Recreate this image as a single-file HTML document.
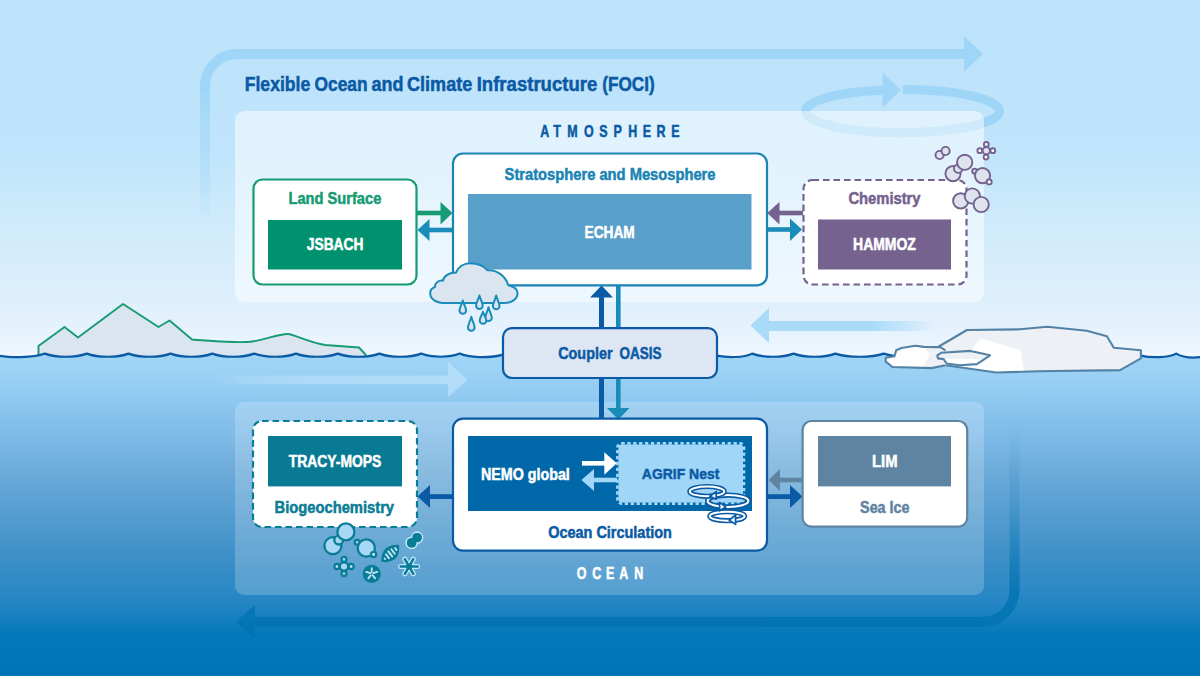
<!DOCTYPE html>
<html lang="en">
<head>
<meta charset="utf-8">
<title>Flexible Ocean and Climate Infrastructure (FOCI)</title>
<style>
html,body{margin:0;padding:0;background:#0075b7;}
body{width:1200px;height:676px;overflow:hidden;}
svg{display:block;}
text{font-family:"Liberation Sans",sans-serif;font-weight:bold;}
</style>
</head>
<body>
<svg width="1200" height="676" viewBox="0 0 1200 676">
<defs>
<linearGradient id="sky" x1="0" y1="0" x2="0" y2="356" gradientUnits="userSpaceOnUse">
<stop offset="0" stop-color="#bce3fa"/>
<stop offset="0.42" stop-color="#bfe4fb"/>
<stop offset="0.6" stop-color="#cdeafb"/>
<stop offset="0.84" stop-color="#deeffc"/>
<stop offset="0.94" stop-color="#e7f3fd"/>
<stop offset="1" stop-color="#f1f8fe"/>
</linearGradient>
<linearGradient id="sea" x1="0" y1="352" x2="0" y2="676" gradientUnits="userSpaceOnUse">
<stop offset="0" stop-color="#a0d7f8"/>
<stop offset="0.086" stop-color="#98cff4"/>
<stop offset="0.27" stop-color="#7cb9e6"/>
<stop offset="0.355" stop-color="#6eacda"/>
<stop offset="0.627" stop-color="#3f90c8"/>
<stop offset="0.78" stop-color="#2385c3"/>
<stop offset="0.87" stop-color="#0579b9"/>
<stop offset="1" stop-color="#0075b6"/>
</linearGradient>
<linearGradient id="topfade" x1="0" y1="88" x2="0" y2="220" gradientUnits="userSpaceOnUse">
<stop offset="0" stop-color="#9fd6f7" stop-opacity="1"/>
<stop offset="0.25" stop-color="#9fd6f7" stop-opacity="0.68"/>
<stop offset="0.6" stop-color="#9fd6f7" stop-opacity="0.4"/>
<stop offset="0.9" stop-color="#9fd6f7" stop-opacity="0.16"/>
<stop offset="1" stop-color="#9fd6f7" stop-opacity="0"/>
</linearGradient>
<linearGradient id="botfade" x1="0" y1="425" x2="0" y2="592" gradientUnits="userSpaceOnUse">
<stop offset="0" stop-color="#0072b1" stop-opacity="0"/>
<stop offset="0.5" stop-color="#0072b1" stop-opacity="0.24"/>
<stop offset="1" stop-color="#0072b1" stop-opacity="1"/>
</linearGradient>
<linearGradient id="airfade" x1="769" y1="0" x2="938" y2="0" gradientUnits="userSpaceOnUse">
<stop offset="0" stop-color="#a9daf8" stop-opacity="1"/>
<stop offset="0.6" stop-color="#a9daf8" stop-opacity="1"/>
<stop offset="1" stop-color="#a9daf8" stop-opacity="0"/>
</linearGradient>
<linearGradient id="seafade" x1="214" y1="0" x2="448" y2="0" gradientUnits="userSpaceOnUse">
<stop offset="0" stop-color="#c4e6fb" stop-opacity="0"/>
<stop offset="0.15" stop-color="#c4e6fb" stop-opacity="0.3"/>
<stop offset="0.45" stop-color="#c4e6fb" stop-opacity="0.5"/>
<stop offset="1" stop-color="#c4e6fb" stop-opacity="0.6"/>
</linearGradient>
</defs>

<!-- sky -->
<rect x="0" y="0" width="1200" height="360" fill="url(#sky)"/>

<!-- big top circulation arrow -->
<g id="toparrow">
<rect x="200" y="88" width="10" height="132" fill="url(#topfade)"/>
<path d="M205 90 V86 A32 32 0 0 1 237 54 H966" fill="none" stroke="#9fd6f7" stroke-width="10"/>
<polygon points="964,36 983,54 964,72" fill="#9fd6f7"/>
</g>

<!-- ellipse swirl -->
<g id="swirl" fill="none" stroke="#9fd6f7" stroke-width="9">
<path d="M903 89.5 A97 21.6 0 1 1 884 89.9"/>
<polygon points="882.5,72.5 901,90 882.5,107.5" fill="#9fd6f7" stroke="none"/>
</g>

<!-- land -->
<path id="land" d="M38.5 358 V346 L64.5 327 L78 337.5 L123 304 L158.5 327 L169.5 320.5 L192 339.5 C215 341 240 343.5 252 341.5 C265 339.5 280 333.6 288 334 C294 334.4 310 343 325 345 L359 347.5 L365.5 354.5 V358 Z" fill="#dbe5f0" stroke="#169b72" stroke-width="1.9" stroke-linejoin="round"/>

<!-- sea -->
<path id="water" d="M0 676 V355.4 L-2 355.4 C8 357.6 34 358.2 44.9 353.6 C55.9 357.8 75.9 357.8 86.7 353.6 C97.7 357.8 117.7 357.8 128.5 353.6 C139.3 357.8 159.5 357.8 170.5 353.6 C181.5 357.8 201.5 357.8 212.3 353.6 C223.2 357.8 243.2 357.8 254 353.6 C265.1 357.8 285.1 357.8 295.9 353.6 C307.0 357.8 327.0 357.8 337.8 353.6 C348.6 357.8 368.6 357.8 379.4 353.6 C390.4 357.8 410.4 357.8 421.2 353.6 C431.4 357.8 449.8 357.8 459.8 353.6 C468 357.8 490 358.4 503 354.6 L717 355.6 C726 357.6 744 358 752 353.6 C762.8 357.8 782.8 357.8 793.6 353.6 C804.6 357.8 824.6 357.8 835.4 353.6 C848.0 357.8 871.2 357.8 883.8 353.6 Q888 355.2 895 356 L1141 355.6 C1150 358 1169 358 1176.2 353.6 C1183 357.8 1194 358 1202 357 V676 Z" fill="url(#sea)"/>
<g fill="none" stroke="#0a5aa5" stroke-width="2.2" stroke-linejoin="miter" stroke-miterlimit="10">
<path d="M-2 355.4 C8 357.6 34 358.2 44.9 353.6 C55.9 357.8 75.9 357.8 86.7 353.6 C97.7 357.8 117.7 357.8 128.5 353.6 C139.3 357.8 159.5 357.8 170.5 353.6 C181.5 357.8 201.5 357.8 212.3 353.6 C223.2 357.8 243.2 357.8 254 353.6 C265.1 357.8 285.1 357.8 295.9 353.6 C307.0 357.8 327.0 357.8 337.8 353.6 C348.6 357.8 368.6 357.8 379.4 353.6 C390.4 357.8 410.4 357.8 421.2 353.6 C431.4 357.8 449.8 357.8 459.8 353.6 C468 357.8 490 358.4 503 354.6"/>
<path d="M717 355.6 C726 357.6 744 358 752 353.6 C762.8 357.8 782.8 357.8 793.6 353.6 C804.6 357.8 824.6 357.8 835.4 353.6 C848.0 357.8 871.2 357.8 883.8 353.6 Q888 355.2 895 356"/>
<path d="M1141 355.6 C1150 358 1169 358 1176.2 353.6 C1183 357.8 1194 358 1202 357"/>
</g>


<!-- iceberg -->
<g id="iceberg" stroke-linejoin="round">
<path d="M938 347 L967 330 L1020 329.3 L1047.2 326.7 L1086.8 330.8 L1106.9 336.2 L1113.8 347.7 L1140.9 350.3 L1140.9 358.4 L1120.1 370.1 L1037.7 371.3 L996.4 372.5 L945.5 365.3 Z" fill="#edf0f5" stroke="none"/>
<path d="M980.7 338.3 L1020.8 350.3 L1023.9 371.6 L996.4 372.5 L945.5 365.3 L958.8 365 Z" fill="#ffffff" stroke="none"/>
<path d="M938 347 L967 330 L1020 329.3 L1047.2 326.7 L1086.8 330.8 L1106.9 336.2 L1113.8 347.7 L1140.9 350.3 L1140.9 358.4 L1120.1 370.1 L1037.7 371.3 L996.4 372.5 L945.5 365.3" fill="none" stroke="#5482a5" stroke-width="2.1"/>
<path d="M885.7 357.8 L894.5 356.3 L896.2 350.3 L901.4 348 L915.3 345.8 L924.1 346.9 L940.4 347.1 L945.5 350.5 L947 360 L945.5 365.3 L931.6 368.1 L892.6 367 L885.7 361.6 Z" fill="#ffffff" stroke="none"/>
<path d="M925 349 L930 354.6 L922 367.8 L931.6 368.1 L945.5 365.3 L947 360 L945.5 350.5 L940.4 347.1 Z" fill="#edf0f5" stroke="none"/>
<path d="M945.5 365.3 L931.6 368.1 L892.6 367 L885.7 361.6 L885.7 357.8 L894.5 356.3 L896.2 350.3 L901.4 348 L915.3 345.8 L924.1 346.9 L940.4 347.1 L945.5 350.5" fill="none" stroke="#5482a5" stroke-width="2.1"/>
<path d="M937.3 355.3 L941.1 352.8 L970.6 350.9 L990.1 355.3 L976.9 364.1 L959.3 365.3 L946.7 363.5 L943.6 359.1 L937.9 358.4 Z" fill="#ffffff" stroke="none"/>
<path d="M937.3 355.3 L941.1 352.8 L970.6 350.9 L990.1 355.3 L984 359.5 L943.6 358.6 L937.9 358.4 Z" fill="#edf0f5" stroke="none"/>
<path d="M937.3 355.3 L941.1 352.8 L970.6 350.9 L990.1 355.3 L976.9 364.1 L959.3 365.3 L946.7 363.5 L943.6 359.1 L937.9 358.4 Z" fill="none" stroke="#5482a5" stroke-width="2.1"/>
</g>

<!-- air / sea flow arrows -->
<g id="flows">
<rect x="768" y="321" width="172" height="10" fill="url(#airfade)"/>
<polygon points="750.5,325.5 769,308 769,343" fill="#a9daf8"/>
<rect x="212" y="375.5" width="236" height="8.5" fill="url(#seafade)"/>
<polygon points="448,362 467.5,379.7 448,397.5" fill="#c4e6fb" fill-opacity="0.6"/>
</g>

<!-- big bottom circulation arrow -->
<g id="botarrow" opacity="0.75">
<rect x="1009.5" y="425" width="10" height="166" fill="url(#botfade)"/>
<path d="M1019.5 591 A37 37 0 0 1 982.5 627 H255 V639 L236 621.8 L255 604.5 V617 H982.5 A27 27 0 0 0 1009.5 591 Z" fill="#0072b1"/>
</g>

<!-- panels -->
<rect id="atmpanel" x="235" y="111" width="749" height="191" rx="9" fill="#ffffff" fill-opacity="0.5"/>
<rect id="ocpanel" x="235" y="402" width="749" height="193" rx="9" fill="#ffffff" fill-opacity="0.2"/>

<!-- connectors -->
<g id="connectors">
<!-- land <-> echam -->
<rect x="417" y="210.7" width="24" height="4.6" fill="#169b72"/>
<polygon points="440.5,202 452.5,213 440.5,224.5" fill="#169b72"/>
<rect x="429" y="227.7" width="24" height="4.6" fill="#1a8cba"/>
<polygon points="429.5,219 417.5,230 429.5,241" fill="#1a8cba"/>
<!-- echam <-> chemistry -->
<rect x="779" y="210.7" width="24" height="4.6" fill="#74628f"/>
<polygon points="779.5,202 767.2,213 779.5,224.5" fill="#74628f"/>
<rect x="767" y="227.2" width="24" height="4.6" fill="#1a8cba"/>
<polygon points="790,218.5 802,229.5 790,241" fill="#1a8cba"/>
<!-- echam <-> coupler -->
<rect x="599" y="296" width="5" height="33" fill="#0a5aa5"/>
<polygon points="590,297.5 601.5,285.5 613,297.5" fill="#0a5aa5"/>
<rect x="616" y="284" width="4.6" height="45" fill="#1a8cba"/>
<!-- coupler <-> ocean -->
<rect x="599" y="377" width="5" height="42" fill="#0a5aa5"/>
<rect x="616" y="377" width="4.6" height="32" fill="#1a8cba"/>
<polygon points="607,408 629.5,408 618.3,419.5" fill="#1a8cba"/>
<!-- ocean -> tracy -->
<rect x="429" y="494.2" width="24" height="4.8" fill="#0a5aa5"/>
<polygon points="430,485 417.5,496.5 430,508" fill="#0a5aa5"/>
<!-- ocean <-> lim -->
<rect x="779" y="477.7" width="24" height="4.6" fill="#5f84a2"/>
<polygon points="780,469 768.5,480 780,491" fill="#5f84a2"/>
<rect x="767" y="494.2" width="24" height="4.8" fill="#0a5aa5"/>
<polygon points="790,485 802.5,496.5 790,508" fill="#0a5aa5"/>
</g>

<!-- boxes -->
<g id="boxes">
<rect x="253.5" y="179.5" width="163" height="105" rx="9" fill="#ffffff" stroke="#169b72" stroke-width="2.2"/>
<rect x="268" y="220" width="134" height="49.5" fill="#00926e"/>
<rect x="453" y="153.5" width="314" height="131.8" rx="10" fill="#ffffff" stroke="#1a84b4" stroke-width="2.2"/>
<rect x="468" y="194" width="283.5" height="75.5" fill="#589fca"/>
<rect x="803.5" y="180" width="163" height="104.5" rx="9" fill="#ffffff" stroke="#74628f" stroke-width="2.2" stroke-dasharray="6.6 3.9"/>
<rect x="818" y="219.5" width="133" height="50" fill="#75628f"/>
<rect x="503" y="328.2" width="214" height="49.8" rx="9" fill="#dde6f2" stroke="#0a5aa5" stroke-width="2.2"/>
<rect x="253" y="421" width="164" height="106" rx="9" fill="#ffffff" stroke="#0a7d96" stroke-width="2.2" stroke-dasharray="6.6 3.9"/>
<rect x="268" y="436" width="134" height="50.4" fill="#087a94"/>
<rect x="453" y="418.6" width="314" height="132" rx="10" fill="#ffffff" stroke="#0a5aa5" stroke-width="2.2"/>
<rect x="468" y="436" width="284" height="75" fill="#0068a9"/>
<rect x="618.4" y="444.4" width="124.6" height="58.2" rx="3" fill="#a0d7f8"/>
<rect x="617.4" y="443.4" width="126.6" height="60.2" rx="4" fill="none" stroke="#a3d8f8" stroke-width="2.6" stroke-dasharray="3.3 2.6"/>
<rect x="802.6" y="421" width="164.6" height="105.6" rx="9" fill="#ffffff" stroke="#5f84a2" stroke-width="2.2"/>
<rect x="818" y="436" width="133" height="50.4" fill="#5f84a2"/>
<!-- inner nemo arrows -->
<rect x="582" y="461" width="23" height="4.6" fill="#ffffff"/>
<polygon points="604.3,452.2 616.8,463.3 604.3,474.8" fill="#ffffff"/>
<rect x="593.5" y="477.7" width="23.5" height="4.6" fill="#a0d7f8"/>
<polygon points="594,469 581.4,480 594,491" fill="#a0d7f8"/>
</g>


<!-- cloud -->
<g id="cloud" transform="translate(0 0.7)" fill="#dbe5f0" stroke="#1a8cba" stroke-width="2" stroke-linejoin="round">
<path d="M445.8 302.3 C437 302.3 430.2 299 430.2 292.5 C430.2 289.5 432 287.3 435 286.25 C434.6 282.5 438.5 279.3 442.9 280 C443.5 275.5 449.5 271.5 455.8 272.1 C458 266 464 262.6 470 262.6 C477.5 262.6 484 265.5 487.5 269.6 C496.5 268.8 505.5 275 508.3 284.6 C513.5 285.8 517.5 288.5 517.5 292.5 C517.5 298.5 511.5 302.3 504.2 302.3 Z"/>
<path d="M462.8 299.8 C463.6 303.3 466.1 307.09999999999997 466.1 309.7 A3.3 3.3 0 0 1 459.5 309.7 C459.5 307.09999999999997 462.0 303.3 462.8 299.8 Z"/>
<path d="M479.4 294.8 C480.2 298.3 482.7 302.29999999999995 482.7 304.9 A3.3 3.3 0 0 1 476.09999999999997 304.9 C476.09999999999997 302.29999999999995 478.59999999999997 298.3 479.4 294.8 Z"/>
<path d="M496.2 294.8 C497.0 298.3 499.5 302.59999999999997 499.5 305.2 A3.3 3.3 0 0 1 492.9 305.2 C492.9 302.59999999999997 495.4 298.3 496.2 294.8 Z"/>
<path d="M488.5 306.6 C489.3 310.1 491.8 314.49999999999994 491.8 317.09999999999997 A3.3 3.3 0 0 1 485.2 317.09999999999997 C485.2 314.49999999999994 487.7 310.1 488.5 306.6 Z"/>
<path d="M483 311 C483.8 314.5 486.3 317.09999999999997 486.3 319.7 A3.3 3.3 0 0 1 479.7 319.7 C479.7 317.09999999999997 482.2 314.5 483 311 Z"/>
<path d="M471.3 316 C472.1 319.5 474.6 324.09999999999997 474.6 326.7 A3.3 3.3 0 0 1 468.0 326.7 C468.0 324.09999999999997 470.5 319.5 471.3 316 Z"/>
</g>

<!-- atmosphere molecules -->
<g id="molecules" fill="#dfe3ee" stroke="#74628f" stroke-width="1.9">
<circle cx="939.6" cy="155" r="4.1"/><circle cx="945.6" cy="151" r="4.1"/>
<circle cx="953" cy="173.6" r="7.6"/><circle cx="958.3" cy="168.6" r="4.3"/><circle cx="964.7" cy="162.3" r="7.6"/>
<circle cx="986.3" cy="144.4" r="2.4" fill="#ffffff"/><circle cx="979.8" cy="150.7" r="2.4" fill="#ffffff"/><circle cx="992.8" cy="150.7" r="2.4" fill="#ffffff"/><circle cx="986" cy="157.1" r="2.4" fill="#ffffff"/><circle cx="986.3" cy="150.7" r="3.6"/>
<circle cx="974.6" cy="171.2" r="2.4"/><circle cx="982.5" cy="175.6" r="7.6"/><circle cx="989.2" cy="181.9" r="2.5" fill="#ffffff"/>
<circle cx="960.7" cy="200.9" r="7.6"/><circle cx="972.3" cy="196" r="7.6"/><circle cx="981.2" cy="204.5" r="7.6"/>
</g>

<!-- plankton -->
<g id="plankton">
<g fill="#a8d8f6" stroke="#0a7d96" stroke-width="2.3">
<circle cx="332.9" cy="545.7" r="8.5"/><circle cx="338.7" cy="540.1" r="4.4"/><circle cx="345.9" cy="531.9" r="8.5"/>
<circle cx="357.1" cy="542.3" r="2.4"/><circle cx="366.3" cy="548" r="8.6"/><circle cx="373.6" cy="554.5" r="2.6" fill="#d3ecfb"/>
<circle cx="344" cy="559.4" r="2.5"/><circle cx="344" cy="573.6" r="2.5"/><circle cx="336.9" cy="566.5" r="2.5" fill="#d3ecfb"/><circle cx="351.2" cy="566.5" r="2.5" fill="#d3ecfb"/><circle cx="344" cy="566.5" r="4.2"/>
</g>
<circle cx="371.7" cy="573.8" r="9.1" fill="#0a7d96"/>
<g stroke="#c3e6fa" stroke-width="1.8" stroke-linecap="round">
<line x1="371.7" y1="572" x2="371.7" y2="568.2"/><line x1="373.2" y1="573.2" x2="377.2" y2="571.9"/><line x1="372.7" y1="575.2" x2="375.1" y2="578.4"/><line x1="370.7" y1="575.2" x2="368.3" y2="578.4"/><line x1="370.2" y1="573.2" x2="366.2" y2="571.9"/>
</g>
<g transform="translate(390.5 553.7) rotate(-37)">
<path d="M-11.5 0.8 Q-6 -6.4 0 -6.4 Q6 -6.4 11.5 -1.8 Q6 6.4 0 6.4 Q-6 6.4 -11.5 0.8 Z" fill="#0a7d96" stroke="#0a7d96" stroke-width="1.2" stroke-linejoin="round"/>
<g stroke="#c3e6fa" stroke-width="1.9" stroke-linecap="round">
<line x1="-7.6" y1="0.4" x2="-7.6" y2="0.9"/><line x1="-4" y1="-2.2" x2="-4" y2="2.6"/><line x1="-0.3" y1="-3.2" x2="-0.3" y2="3.2"/><line x1="3.4" y1="-3" x2="3.4" y2="2.6"/><line x1="7.1" y1="-1.8" x2="7.1" y2="0.6"/>
</g>
</g>
<g fill="#0a7d96" stroke="#c3e6fa" stroke-width="3.2" paint-order="stroke">
<circle cx="417.1" cy="537.6" r="4.7"/><circle cx="411.6" cy="542.9" r="4.7"/>
</g>
<g fill="#0a7d96"><circle cx="417.1" cy="537.6" r="4.7"/><circle cx="411.6" cy="542.9" r="4.7"/></g>
<g stroke-linecap="round" fill="none">
<g stroke="#c3e6fa" stroke-width="5">
<line x1="400.6" y1="566.5" x2="417.6" y2="566.5"/><line x1="404.9" y1="559.2" x2="413.3" y2="573.8"/><line x1="413.3" y1="559.2" x2="404.9" y2="573.8"/>
</g>
<g stroke="#0a7d96" stroke-width="2.5">
<line x1="400.6" y1="566.5" x2="417.6" y2="566.5"/><line x1="404.9" y1="559.2" x2="413.3" y2="573.8"/><line x1="413.3" y1="559.2" x2="404.9" y2="573.8"/>
</g>
</g>
<circle cx="409.1" cy="566.5" r="3" fill="#0a7d96"/>
</g>

<!-- eddies -->
<g id="eddies" fill="none">
<g>
<ellipse cx="727.2" cy="516.2" rx="17.4" ry="4.5" stroke="#0a5aa5" stroke-width="5.2"/>
<ellipse cx="727.2" cy="516.2" rx="17.4" ry="4.5" stroke="#ffffff" stroke-width="2"/>
<polygon points="729.2,520.2 735.6,515 735.6,524.4" fill="#e8f4fd" stroke="#0a5aa5" stroke-width="1.7" stroke-linejoin="round"/>
</g>
<g>
<ellipse cx="728" cy="501" rx="20.4" ry="5.9" stroke="#0a5aa5" stroke-width="5.2"/>
<ellipse cx="728" cy="501" rx="20.4" ry="5.9" stroke="#ffffff" stroke-width="2"/>
<polygon points="725.8,506.9 719.6,502.4 719.6,510.8" fill="#e8f4fd" stroke="#0a5aa5" stroke-width="1.7" stroke-linejoin="round"/>
</g>
<g>
<ellipse cx="707" cy="491.4" rx="17.2" ry="4.9" stroke="#0a5aa5" stroke-width="5.2"/>
<ellipse cx="707" cy="491.4" rx="17.2" ry="4.9" stroke="#ffffff" stroke-width="2"/>
<polygon points="709.8,496.3 716.2,491.6 716.2,499.2" fill="#e8f4fd" stroke="#0a5aa5" stroke-width="1.7" stroke-linejoin="round"/>
</g>
</g>

<!-- spaced headings -->
<g id="headings" transform="scale(0.78 1)">
<text y="136.8" font-size="16" fill="#0a5aa5" stroke="#0a5aa5" stroke-width="0.5" x="692.5 709.3 727.4 748.8 768.4 786.7 805.4 824.1 841.7 860.7">ATMOSPHERE</text>
<text y="579" font-size="16" fill="#ffffff" stroke="#ffffff" stroke-width="0.5" x="739.4 759.4 776.9 793.8 813.3">OCEAN</text>
</g>

<!-- labels -->
<g id="labels">
<text y="91.2" font-size="19.6" fill="#0a5aa5" stroke="#0a5aa5" stroke-width="0.5"><tspan x="244.72" textLength="65.58" lengthAdjust="spacingAndGlyphs">Flexible</tspan> <tspan x="314.49" textLength="53.09" lengthAdjust="spacingAndGlyphs">Ocean</tspan> <tspan x="371.47" textLength="31.91" lengthAdjust="spacingAndGlyphs">and</tspan> <tspan x="407.06" textLength="65.16" lengthAdjust="spacingAndGlyphs">Climate</tspan> <tspan x="476.66" textLength="120.68" lengthAdjust="spacingAndGlyphs">Infrastructure</tspan> <tspan x="602.24" textLength="52.51" lengthAdjust="spacingAndGlyphs">(FOCI)</tspan></text>
<text x="504.58" y="179.6" font-size="16" fill="#1a84b4" stroke="#1a84b4" stroke-width="0.5" textLength="210.93" lengthAdjust="spacingAndGlyphs">Stratosphere and Mesosphere</text>
<text x="288.52" y="204" font-size="16" fill="#169b72" stroke="#169b72" stroke-width="0.5" textLength="92.78" lengthAdjust="spacingAndGlyphs">Land Surface</text>
<text x="306.79" y="250" font-size="16" fill="#ffffff" stroke="#ffffff" stroke-width="0.5" textLength="56.64" lengthAdjust="spacingAndGlyphs">JSBACH</text>
<text x="584.59" y="237.5" font-size="16" fill="#ffffff" stroke="#ffffff" stroke-width="0.5" textLength="50.13" lengthAdjust="spacingAndGlyphs">ECHAM</text>
<text x="848.39" y="203.8" font-size="16" fill="#74628f" stroke="#74628f" stroke-width="0.5" textLength="72.18" lengthAdjust="spacingAndGlyphs">Chemistry</text>
<text x="853.07" y="250" font-size="16" fill="#ffffff" stroke="#ffffff" stroke-width="0.5" textLength="62.84" lengthAdjust="spacingAndGlyphs">HAMMOZ</text>
<text y="358.8" font-size="16" fill="#0a5aa5" stroke="#0a5aa5" stroke-width="0.5"><tspan x="558.21" textLength="54.31" lengthAdjust="spacingAndGlyphs">Coupler</tspan> <tspan x="619.45" textLength="42.08" lengthAdjust="spacingAndGlyphs">OASIS</tspan></text>
<text x="288.85" y="466.8" font-size="16" fill="#ffffff" stroke="#ffffff" stroke-width="0.5" textLength="92.49" lengthAdjust="spacingAndGlyphs">TRACY-MOPS</text>
<text x="274.51" y="513" font-size="16" fill="#0a7d96" stroke="#0a7d96" stroke-width="0.5" textLength="119.56" lengthAdjust="spacingAndGlyphs">Biogeochemistry</text>
<text x="481.05" y="479.5" font-size="16" fill="#ffffff" stroke="#ffffff" stroke-width="0.5" textLength="88.76" lengthAdjust="spacingAndGlyphs">NEMO global</text>
<text x="641.85" y="478.8" font-size="15.4" fill="#0a5aa5" stroke="#0a5aa5" stroke-width="0.5" textLength="77.52" lengthAdjust="spacingAndGlyphs">AGRIF Nest</text>
<text x="548.21" y="538" font-size="16" fill="#0a5aa5" stroke="#0a5aa5" stroke-width="0.5" textLength="123.69" lengthAdjust="spacingAndGlyphs">Ocean Circulation</text>
<text x="872.01" y="467" font-size="16" fill="#ffffff" stroke="#ffffff" stroke-width="0.5" textLength="25.48" lengthAdjust="spacingAndGlyphs">LIM</text>
<text x="860.09" y="512.5" font-size="16" fill="#5f84a2" stroke="#5f84a2" stroke-width="0.5" textLength="49.4" lengthAdjust="spacingAndGlyphs">Sea Ice</text>
</g>

</svg>
</body>
</html>
